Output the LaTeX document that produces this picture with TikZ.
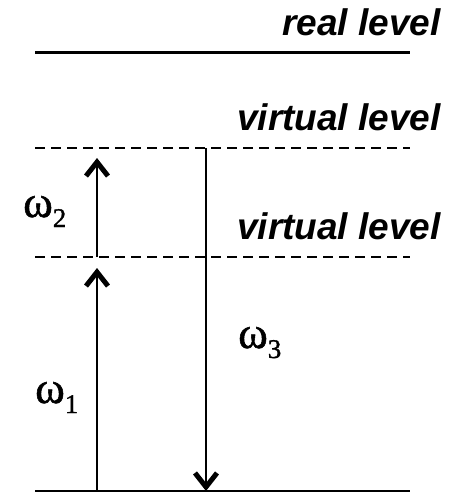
\documentclass[tikz,border=0pt]{standalone}
\usepackage{fontspec}
\setmainfont{Liberation Serif}
\newfontfamily\levelfont{Liberation Sans}
\newfontfamily\freqfont[FakeBold=1.2]{Liberation Serif}
\usetikzlibrary{arrows.meta}

\begin{document}
\begin{tikzpicture}[x=1pt, y=-1pt]

\def\lineleft{35}
\def\lineright{410}
\def\textright{441}

\tikzset{
  solidlevel/.style={line width=3pt},
  dashlevel/.style={line width=2.4pt, dash pattern=on 9.5pt off 6.5pt},
  photon/.style={line width=2pt, -{Straight Barb[length=14pt, width=22pt, line width=5pt]}},
  leveltext/.style={anchor=base east, inner sep=0pt, font=\levelfont\bfseries\itshape\fontsize{37}{40}\selectfont},
  freqtext/.style={anchor=base west, inner sep=0pt, font=\freqfont\fontsize{45}{48}\selectfont}
}
\newcommand{\freqsub}[1]{\raisebox{-10pt}{\fontsize{27}{29}\selectfont #1}}

\useasboundingbox (0,0) rectangle (455,492);

% Niveaus
\draw[solidlevel] (\lineleft,53) -- (\lineright,53);
\draw[dashlevel] (\lineleft,148) -- (\lineright,148);
\draw[dashlevel] (\lineleft,257) -- (\lineright,257);
\draw[solidlevel] (\lineleft,491) -- (\lineright,491);

\node[leveltext] (real) at (\textright,36) {real level};
\node[leveltext] (virtA) at (\textright,130) {virtual level};
\node[leveltext] (virtB) at (\textright,239) {virtual level};

% Pfeile
\coordinate (startA) at (97,491);
\coordinate (tipA) at (97,268);
\coordinate (startB) at (97,257);
\coordinate (tipB) at (97,158);
\coordinate (startC) at (206,148);
\coordinate (tipC) at (206,491);

\draw[photon] (startA) -- (tipA);
\draw[photon] (startB) -- (tipB);
\draw[photon] (startC) -- (tipC);

\node[freqtext] (omA) at (35,403) {ω\freqsub{1}};
\node[freqtext] (omB) at (23,217) {ω\freqsub{2}};
\node[freqtext] (omC) at (238,348) {ω\freqsub{3}};

\end{tikzpicture}
\end{document}
